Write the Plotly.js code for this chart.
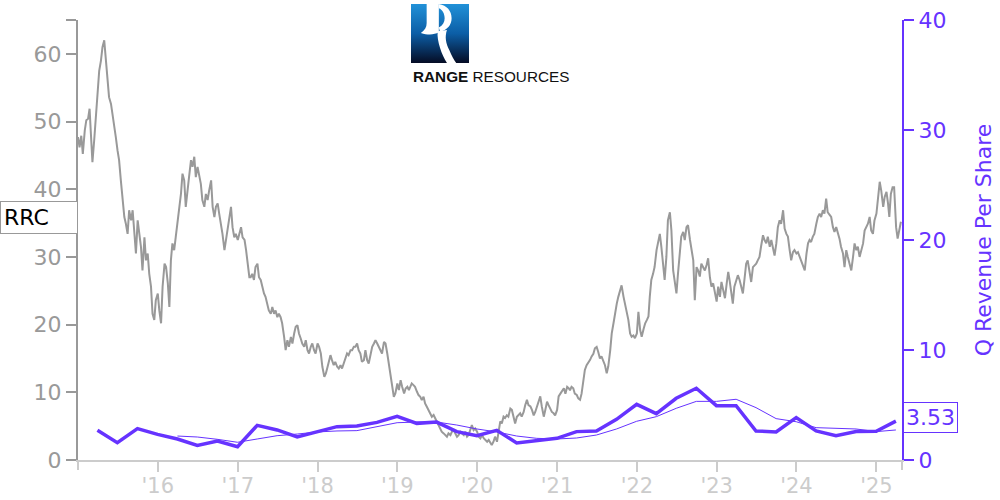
<!DOCTYPE html>
<html>
<head>
<meta charset="utf-8">
<script src="https://cdn.plot.ly/plotly-3.0.1.min.js"></script>
<style>html,body{margin:0;padding:0;background:#fff;}#chart{width:1000px;height:500px;}</style>
</head>
<body>
<div id="chart"></div>
<script>
// ---- DATA ----
const ticker = 'RRC';
const companyBold = 'RANGE';
const companyRest = 'RESOURCES';
const rightAxisTitle = 'Q Revenue Per Share';
const revenueLabel = '3.53';

// Price samples, 4 per month (days 1, 8, 16, 23), starting January 2015
const priceStartYear = 2015;
const priceSampleDays = [1, 8, 16, 23];
const priceValues = [
47.7,46.2,47.9,45.2,48.7,50.2,50.4,51.9,48.2,44.0,
47.2,50.2,53.1,57.5,59.0,61.0,62.0,59.5,56.6,53.6,
52.6,51.2,49.2,47.7,45.7,44.3,41.3,39.3,35.9,34.9,
33.4,36.9,35.4,36.9,33.4,30.5,35.4,33.4,31.5,28.0,
32.9,29.5,30.5,27.5,25.6,21.6,20.7,23.6,24.6,22.1,
20.2,25.6,29.0,28.5,26.1,22.6,29.5,32.0,31.0,32.9,
35.4,36.9,39.3,42.3,41.3,37.4,40.3,41.8,44.3,43.3,
44.8,41.8,43.3,41.8,40.8,38.4,37.4,39.3,38.4,39.8,
41.3,37.4,35.9,37.4,37.9,36.4,34.9,33.4,31.0,32.5,
34.9,35.9,37.4,34.4,32.9,33.4,32.5,33.4,34.4,32.9,
32.5,31.0,28.5,27.0,27.0,27.5,26.6,28.5,29.0,27.0,
26.6,25.6,24.6,24.1,23.1,22.1,21.6,22.6,21.6,22.1,
21.1,21.6,21.1,20.2,18.2,
16.23,17.70,16.72,18.19,17.21,18.69,19.67,19.91,18.69,17.95,
17.21,16.72,17.70,16.23,15.73,16.72,17.21,16.23,15.73,17.21,
16.72,15.73,13.77,12.29,12.78,13.77,14.75,15.49,14.75,14.01,
14.50,13.77,13.52,14.01,13.52,14.26,15.00,15.73,15.49,16.23,
16.23,16.72,16.72,17.21,16.23,15.73,14.50,14.75,16.23,14.75,
14.26,15.73,16.72,17.21,17.70,17.21,16.72,16.23,15.73,17.46,
17.21,15.73,14.26,12.78,10.82,9.34,9.83,11.31,10.32,11.80,
10.82,9.83,10.57,10.82,10.32,10.82,11.31,11.06,10.82,10.08,
9.59,9.34,8.85,9.34,8.36,7.86,7.37,6.88,6.39,6.64,
6.14,5.65,5.16,4.67,4.18,3.93,3.68,3.44,3.93,3.68,
4.18,4.42,3.93,3.44,3.68,4.18,3.93,3.68,4.18,3.44,
3.68,4.67,5.16,4.42,4.67,4.18,3.44,3.19,3.68,3.19,
2.95,2.70,2.95,2.46,2.21,2.70,3.44,
2.7,4.4,5.7,5.4,6.4,6.2,6.6,6.4,7.6,7.4,
6.2,5.4,6.4,6.6,6.9,6.4,7.1,8.1,8.9,8.1,
7.9,7.4,6.6,7.1,7.9,8.6,9.4,7.9,6.4,7.4,
8.6,8.1,7.4,7.1,6.9,6.6,7.4,9.4,9.8,10.1,
10.6,9.8,10.8,10.6,10.3,10.8,10.6,9.8,9.6,9.1,
8.9,9.8,11.8,13.3,14.0,14.3,14.8,15.3,15.7,16.5,
16.7,16.0,15.0,15.3,14.5,14.0,12.8,13.8,16.2,18.7,
20.2,21.9,23.1,24.1,25.1,25.8,24.1,23.1,22.1,20.7,
18.7,18.2,18.4,18.0,18.7,21.9,19.2,18.2,19.4,20.2,
20.7,21.2,24.1,26.6,27.5,28.5,31.0,32.0,33.4,31.5,
29.0,26.6,30.0,35.4,36.6,33.9,28.0,26.1,24.6,27.5,
30.0,33.0,33.7,32.5,34.4,34.7,32.5,31.0,29.5,23.6,
28.5,28.0,27.1,29.0,28.5,
28.0,28.8,29.8,27.0,25.6,26.1,25.1,23.4,25.6,24.1,
26.3,25.1,23.9,26.1,27.8,26.6,24.6,23.1,25.6,26.8,
27.3,26.6,25.6,24.6,26.6,29.0,29.5,28.0,26.3,28.5,
28.8,29.0,29.5,30.0,31.5,33.2,32.5,32.0,33.0,31.5,
32.5,31.0,30.2,32.0,34.4,35.4,34.9,36.9,34.2,33.4,
33.0,31.0,29.5,30.7,31.0,30.5,30.7,30.0,29.3,28.5,
28.0,30.5,32.0,32.5,32.2,33.0,33.4,34.9,35.9,36.4,
35.9,36.9,36.4,38.6,36.6,36.2,35.9,34.4,33.7,34.4,
33.7,32.7,31.5,30.5,28.5,31.0,30.0,29.0,28.0,30.0,
32.0,31.0,31.5,30.0,31.0,32.0,33.9,34.4,34.9,35.9,
33.9,33.4,35.4,36.4,38.4,41.1,39.8,37.4,38.9,39.6,
37.9,35.9,39.3,40.3,40.3,34.4,32.7,34.2,35.2
];

const quarterEnds = [
'2015-03-31','2015-06-30','2015-09-30','2015-12-31',
'2016-03-31','2016-06-30','2016-09-30','2016-12-31',
'2017-03-31','2017-06-30','2017-09-30','2017-12-31',
'2018-03-31','2018-06-30','2018-09-30','2018-12-31',
'2019-03-31','2019-06-30','2019-09-30','2019-12-31',
'2020-03-31','2020-06-30','2020-09-30','2020-12-31',
'2021-03-31','2021-06-30','2021-09-30','2021-12-31',
'2022-03-31','2022-06-30','2022-09-30','2022-12-31',
'2023-03-31','2023-06-30','2023-09-30','2023-12-31',
'2024-03-31','2024-06-30','2024-09-30','2024-12-31',
'2025-03-31'
];
const revenuePerShare = [
2.70,1.58,2.85,2.33,1.91,1.33,1.73,1.21,3.15,2.73,
2.09,2.55,3.03,3.09,3.42,3.97,3.33,3.45,2.58,2.21,
2.70,1.55,1.73,1.97,2.58,2.64,3.70,5.06,4.21,5.61,
6.52,4.94,4.94,2.64,2.55,3.85,2.64,2.21,2.58,2.61,
3.53
];
// trailing average line, starts at Q1 2016
const revenueAvgStartIndex = 4;
const revenueAvg = [
2.18,2.09,1.88,1.61,1.91,2.21,2.36,2.55,2.64,2.67,
3.03,3.39,3.45,3.45,3.18,2.82,2.55,2.18,1.97,1.91,
2.00,2.27,2.82,3.52,3.94,4.70,5.33,5.33,5.52,4.76,
3.76,3.48,2.94,2.85,2.82,2.58,2.73
];

const xTickDates = ['2016-01-01','2017-01-01','2018-01-01','2019-01-01','2020-01-01','2021-01-01','2022-01-01','2023-01-01','2024-01-01','2025-01-01'];
const xTickLabels = ["'16","'17","'18","'19","'20","'21","'22","'23","'24","'25"];
const leftTicks = [0,10,20,30,40,50,60,65];
const leftTickLabels = ['0','10','20','30','40','50','60',''];
const rightTicks = [0,10,20,30,40];

// ---- BUILD ----
function pad(n){return (n<10?'0':'')+n;}
const priceDates = priceValues.map((v,k)=>{
  const mIdx = Math.floor(k/4);
  const y = priceStartYear + Math.floor(mIdx/12);
  const m = mIdx%12 + 1;
  const d = priceSampleDays[k%4];
  return y+'-'+pad(m)+'-'+pad(d);
});

const purple = '#6633ff';
const font = 'DejaVu Sans, sans-serif';

const traces = [
  {x: priceDates, y: priceValues, type:'scatter', mode:'lines', yaxis:'y',
   line:{color:'#999999', width:2}, hoverinfo:'skip'},
  {x: quarterEnds.slice(revenueAvgStartIndex), y: revenueAvg, type:'scatter', mode:'lines', yaxis:'y2',
   line:{color:purple, width:1}, hoverinfo:'skip'},
  {x: quarterEnds, y: revenuePerShare, type:'scatter', mode:'lines', yaxis:'y2',
   line:{color:purple, width:3.5}, hoverinfo:'skip'}
];

const logoSvg = "<svg xmlns='http://www.w3.org/2000/svg' width='100' height='100' viewBox='0 0 100 100'>"+
 "<defs><linearGradient id='g' x1='0' y1='0' x2='0' y2='1'>"+
 "<stop offset='0' stop-color='#2191d8'/><stop offset='0.5' stop-color='#0c5ea6'/><stop offset='1' stop-color='#050c24'/>"+
 "</linearGradient></defs>"+
 "<rect width='100' height='100' fill='url(#g)'/>"+
 "<path fill='#ffffff' d='M27,0 L48,0 L48,48 C40,52 30,53 17,49 C24,44 27,39 27,32 Z'/>"+
 "<path fill='#ffffff' d='M48,0 C62,2 70,12 70,24 C70,36 62,44 50,47 L48,40 C55,36 58,30 58,24 C58,16 54,9 48,7 Z'/>"+
 "<path fill='#ffffff' d='M46,46 L62,44 C58,56 60,66 66,78 C70,88 74,95 78,100 L62,100 C57,92 53,84 50,74 C47,64 45,55 46,46 Z'/>"+
 "</svg>";

const lastPrice = priceValues[priceValues.length-1];
const lastRev = revenuePerShare[revenuePerShare.length-1];

const layout = {
  width:1000, height:500,
  margin:{l:78, r:98, t:20, b:40},
  paper_bgcolor:'#ffffff', plot_bgcolor:'#ffffff',
  showlegend:false, hovermode:false,
  font:{family:font, size:22, color:'#999999'},
  xaxis:{type:'date', range:['2015-01-01','2025-04-28'], tickmode:'array', tickvals:xTickDates, ticktext:xTickLabels,
    showgrid:false, zeroline:false, showline:true, linecolor:'#cccccc', linewidth:2,
    ticks:'outside', ticklen:10, tickwidth:2, tickcolor:'#cccccc', ticklabelstandoff:-4,
    tickfont:{family:font, size:21, color:'#cccccc'}},
  yaxis:{range:[0,65], tickmode:'array', tickvals:leftTicks, ticktext:leftTickLabels,
    showgrid:false, zeroline:false, showline:true, linecolor:'#999999', linewidth:2,
    ticks:'outside', ticklen:10, tickwidth:2, tickcolor:'#999999',
    tickfont:{family:font, size:22, color:'#999999'}},
  yaxis2:{range:[0,40], overlaying:'y', side:'right', tickmode:'array', tickvals:rightTicks,
    showgrid:false, zeroline:false, showline:true, linecolor:purple, linewidth:2,
    ticks:'outside', ticklen:10, tickwidth:2, tickcolor:purple,
    tickfont:{family:font, size:22, color:purple},
    title:{text:rightAxisTitle, font:{family:font, size:22, color:purple}, standoff:30}},
  images:[{source:'data:image/svg+xml;charset=utf-8,'+encodeURIComponent(logoSvg),
    xref:'paper', yref:'paper', x:(411-78)/824, y:(460-4)/440, sizex:58/824, sizey:59/440,
    xanchor:'left', yanchor:'top', sizing:'stretch', layer:'above'}],
  annotations:[
    {xref:'paper', yref:'paper', x:(411-78)/824, y:(460-77)/440, xanchor:'left', yanchor:'middle',
     text:'<b>'+companyBold+'</b> '+companyRest, showarrow:false,
     font:{family:'Liberation Sans, Arial, sans-serif', size:15.3, color:'#111111'}},
    {xref:'paper', yref:'y', x:0, y:lastPrice, xanchor:'right', yanchor:'middle', yshift:4,
     text:ticker, showarrow:false, align:'left', width:70, borderpad:3,
     bgcolor:'#ffffff', bordercolor:'#999999', borderwidth:1,
     font:{family:font, size:22, color:'#000000'}},
    {xref:'paper', yref:'y2', x:1, y:lastRev, xanchor:'left', yanchor:'middle', xshift:1, yshift:4,
     text:revenueLabel, showarrow:false, borderpad:2,
     bgcolor:'#ffffff', bordercolor:purple, borderwidth:1,
     font:{family:font, size:22, color:purple}}
  ],
  shapes:[
    {type:'line', xref:'paper', yref:'paper', x0:0, x1:0, y0:0, y1:-10/440, line:{color:'#cccccc', width:2}},
    {type:'line', xref:'paper', yref:'paper', x0:1, x1:1, y0:0, y1:-10/440, line:{color:'#cccccc', width:2}}
  ]
};

Plotly.newPlot('chart', traces, layout, {displayModeBar:false, staticPlot:true});
</script>
</body>
</html>
